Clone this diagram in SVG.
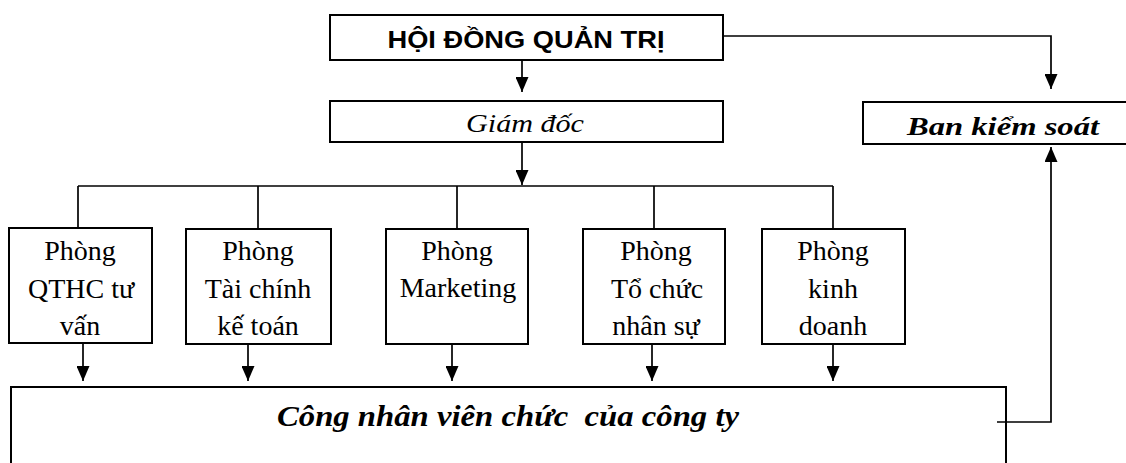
<svg xmlns="http://www.w3.org/2000/svg" width="1126" height="463" viewBox="0 0 1126 463">
  <style>
    .box { fill: #fff; stroke: #000; stroke-width: 2; }
    .line { fill: none; stroke: #000; stroke-width: 1.7; }
    .dept { font-family: "Liberation Serif", "Times New Roman", serif; font-size: 28px; fill: #000; text-anchor: middle; }
    .it { font-family: "Liberation Serif", "Times New Roman", serif; font-style: italic; fill: #000; text-anchor: middle; }
    .hd { font-family: "Liberation Sans", Arial, sans-serif; font-weight: bold; font-size: 23px; fill: #000; text-anchor: middle; }
  </style>
  <defs>
    <marker id="arr" markerUnits="userSpaceOnUse" markerWidth="16" markerHeight="13" refX="15" refY="6.5" orient="auto">
      <path d="M0,0 L15,6.5 L0,13 z" fill="#000"/>
    </marker>
  </defs>
  <rect width="1126" height="463" fill="#fff"/>

  <g id="hdqt">
    <rect class="box" x="330" y="15" width="393" height="45"/>
    <text class="hd" x="526" y="48" textLength="277" lengthAdjust="spacingAndGlyphs">HỘI ĐỒNG QUẢN TRỊ</text>
  </g>

  <g id="giam-doc">
    <rect class="box" x="330" y="101" width="393" height="41"/>
    <text class="it" x="525" y="132" font-size="26" textLength="118" lengthAdjust="spacingAndGlyphs">Giám đốc</text>
  </g>

  <g id="ban-kiem-soat">
    <rect class="box" x="863" y="102" width="300" height="42"/>
    <text class="it" x="1003" y="135" font-size="26" font-weight="bold" textLength="192" lengthAdjust="spacingAndGlyphs">Ban kiểm soát</text>
  </g>

  <g id="phong-qthc">
    <rect class="box" x="9" y="228" width="143" height="115"/>
    <text class="dept" x="80" y="260">Phòng</text>
    <text class="dept" x="81" y="298">QTHC tư</text>
    <text class="dept" x="80" y="335">vấn</text>
  </g>

  <g id="phong-tai-chinh">
    <rect class="box" x="186" y="229" width="145" height="115"/>
    <text class="dept" x="258" y="260">Phòng</text>
    <text class="dept" x="258" y="298">Tài chính</text>
    <text class="dept" x="258" y="335">kế toán</text>
  </g>

  <g id="phong-marketing">
    <rect class="box" x="386" y="229" width="142" height="115"/>
    <text class="dept" x="457" y="260">Phòng</text>
    <text class="dept" x="458" y="297">Marketing</text>
  </g>

  <g id="phong-to-chuc">
    <rect class="box" x="583" y="229" width="142" height="115"/>
    <text class="dept" x="656" y="260">Phòng</text>
    <text class="dept" x="657" y="298">Tổ chức</text>
    <text class="dept" x="656" y="335">nhân sự</text>
  </g>

  <g id="phong-kinh-doanh">
    <rect class="box" x="762" y="229" width="143" height="115"/>
    <text class="dept" x="833" y="260">Phòng</text>
    <text class="dept" x="833" y="298">kinh</text>
    <text class="dept" x="833" y="335">doanh</text>
  </g>

  <g id="cong-nhan-vien">
    <rect class="box" x="11" y="387" width="995" height="100"/>
    <text class="it" x="508" y="426" font-size="29" font-weight="bold" textLength="462" lengthAdjust="spacingAndGlyphs" xml:space="preserve">Công nhân viên chức  của công ty</text>
  </g>

  <g id="connectors">
    <path class="line" d="M522,60 V92" marker-end="url(#arr)"/>
    <path class="line" d="M723,36 H1051 V89" marker-end="url(#arr)"/>
    <path class="line" d="M522,142 V185" marker-end="url(#arr)"/>
    <path class="line" d="M78,186 H833"/>
    <path class="line" d="M78,186 V228"/>
    <path class="line" d="M258,186 V229"/>
    <path class="line" d="M457,186 V229"/>
    <path class="line" d="M654,186 V229"/>
    <path class="line" d="M833,186 V229"/>
    <path class="line" d="M83,343 V381" marker-end="url(#arr)"/>
    <path class="line" d="M248,344 V381" marker-end="url(#arr)"/>
    <path class="line" d="M452,344 V381" marker-end="url(#arr)"/>
    <path class="line" d="M652,344 V381" marker-end="url(#arr)"/>
    <path class="line" d="M833,344 V381" marker-end="url(#arr)"/>
    <path class="line" d="M997,422 H1051 V147" marker-end="url(#arr)"/>
  </g>
</svg>
